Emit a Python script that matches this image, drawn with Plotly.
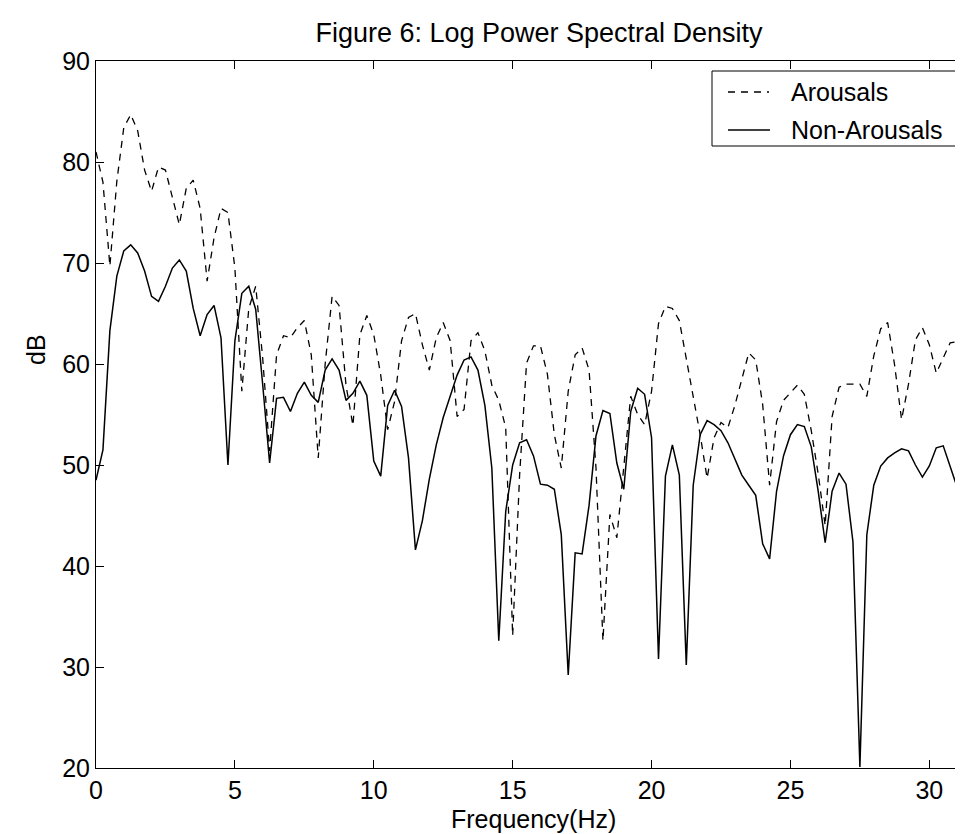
import plotly.graph_objects as go

step_hz = 0.25
freq = [i * step_hz for i in range(128)]

arousals = [
    81.0, 78.0, 69.7, 78.1, 83.4, 84.7, 83.1, 79.2, 77.1, 79.5,
    79.2, 76.4, 73.8, 77.4, 78.2, 75.4, 68.2, 72.5, 75.4, 75.0,
    69.5, 57.3, 65.5, 67.7, 60.6, 51.4, 60.9, 62.8, 62.6, 63.6,
    64.3, 60.9, 50.7, 60.0, 66.7, 65.8, 57.9, 53.9, 62.9, 64.8,
    62.9, 58.9, 53.5, 56.3, 62.3, 64.6, 65.0, 61.9, 59.4, 62.6,
    64.1, 62.3, 54.8, 55.5, 62.3, 63.1, 61.3, 57.9, 56.4, 53.7,
    33.1, 49.0, 60.1, 61.8, 61.8, 59.0, 53.0, 49.7, 57.3, 60.9,
    61.6, 59.4, 49.7, 32.6, 45.1, 42.8, 50.0, 56.8, 55.0, 54.0,
    57.3, 64.0, 65.7, 65.5, 64.3, 60.6, 56.6, 53.0, 48.7, 52.7,
    54.2, 53.7, 55.9, 58.4, 61.1, 60.4, 56.0, 48.0, 54.3, 56.4,
    57.1, 57.9, 57.0, 53.4, 49.1, 44.0, 54.8, 57.7, 58.0, 58.0,
    58.0, 56.8, 60.8, 63.5, 64.1, 59.9, 54.5, 58.0, 62.4, 63.6,
    61.9, 59.1, 60.6, 62.1, 62.2, 60.0, 54.5, 50.0,
]

non_arousals = [
    48.5, 51.5, 63.3, 68.7, 71.2, 71.8, 71.0, 69.2, 66.7, 66.2,
    67.7, 69.5, 70.3, 69.2, 65.5, 62.8, 64.9, 65.8, 62.6, 50.0,
    62.3, 67.0, 67.7, 65.4, 58.0, 50.2, 56.6, 56.7, 55.3, 57.1,
    58.2, 56.9, 56.2, 59.4, 60.5, 59.4, 56.4, 57.1, 58.3, 56.9,
    50.4, 48.9, 55.9, 57.4, 55.8, 50.7, 41.6, 44.5, 48.6, 52.0,
    54.7, 56.9, 58.9, 60.4, 60.7, 59.4, 55.9, 49.7, 32.6, 45.4,
    50.0, 52.2, 52.5, 50.9, 48.1, 48.0, 47.6, 43.1, 29.2, 41.3,
    41.2, 46.0, 52.9, 55.4, 55.1, 50.2, 47.6, 55.3, 57.6, 57.0,
    52.7, 30.8, 48.9, 52.0, 49.0, 30.2, 48.0, 53.0, 54.4, 54.0,
    53.4, 52.2, 50.5, 49.0, 48.0, 47.0, 42.2, 40.7, 47.4, 50.9,
    53.0, 54.0, 53.8, 51.8, 47.4, 42.3, 47.4, 49.2, 48.1, 42.4,
    20.1, 43.1, 48.0, 49.9, 50.7, 51.2, 51.6, 51.4, 50.0, 48.8,
    49.9, 51.7, 51.9, 49.9, 47.8, 47.5, 48.9, 49.5,
]

series_names = ["Arousals", "Non-Arousals"]
x_ticks = [0, 5, 10, 15, 20, 25, 30]
y_ticks = [20, 30, 40, 50, 60, 70, 80, 90]

FONT = "Liberation Sans, Arial, sans-serif"
W, H = 963, 834
L, R, T, B = 88, 0, 53, 74
PW, PH = W - L - R, H - T - B


def px(x):
    return (x - L) / PW


def py(y):
    return (H - B - y) / PH


DASH = "7px,6px"

fig = go.Figure()
fig.add_trace(go.Scatter(
    x=freq, y=arousals, mode="lines", name=series_names[0],
    line=dict(color="black", width=1.3, dash=DASH), showlegend=False,
))
fig.add_trace(go.Scatter(
    x=freq, y=non_arousals, mode="lines", name=series_names[1],
    line=dict(color="black", width=1.5), showlegend=False,
))

# legend box drawn by hand (paper coordinates)
shapes = [
    dict(type="rect", xref="paper", yref="paper",
         x0=px(704), x1=px(959), y0=py(138), y1=py(63),
         line=dict(color="black", width=1), fillcolor="white", layer="above"),
    dict(type="line", xref="paper", yref="paper",
         x0=px(720), x1=px(761), y0=py(84), y1=py(84),
         line=dict(color="black", width=1.3, dash=DASH), layer="above"),
    dict(type="line", xref="paper", yref="paper",
         x0=px(720), x1=px(762), y0=py(122), y1=py(122),
         line=dict(color="black", width=1.5), layer="above"),
]
annotations = [
    dict(text=series_names[0], xref="paper", yref="paper", x=px(781), y=py(84),
         xanchor="left", yanchor="middle", showarrow=False, font=dict(size=25)),
    dict(text=series_names[1], xref="paper", yref="paper", x=px(781), y=py(122),
         xanchor="left", yanchor="middle", showarrow=False, font=dict(size=25)),
    dict(text="Frequency(Hz)", xref="paper", yref="paper", x=0.5, y=py(811),
         xanchor="center", yanchor="middle", showarrow=False, font=dict(size=25)),
    dict(text="dB", xref="paper", yref="paper", x=px(28), y=py(342), textangle=-90,
         xanchor="center", yanchor="middle", showarrow=False, font=dict(size=25)),
]

fig.update_layout(
    width=W, height=H,
    paper_bgcolor="white", plot_bgcolor="white",
    margin=dict(l=L, r=R, t=T, b=B),
    font=dict(family=FONT, size=24, color="black"),
    title=dict(text="Figure 6: Log Power Spectral Density",
               x=px(531), xref="paper", xanchor="center",
               y=1 - 25 / H, yref="container", yanchor="middle",
               font=dict(size=27)),
    showlegend=False,
    shapes=shapes,
    annotations=annotations,
    xaxis=dict(range=[0, 31.5], tickvals=x_ticks, ticks="inside", ticklen=8,
               showline=True, linecolor="black", linewidth=1, mirror="allticks",
               showgrid=False, zeroline=False, tickcolor="black",
               tickfont=dict(size=25)),
    yaxis=dict(range=[20, 90], tickvals=y_ticks, ticks="inside", ticklen=8,
               showline=True, linecolor="black", linewidth=1, mirror=False,
               showgrid=False, zeroline=False, tickcolor="black",
               tickfont=dict(size=25)),
)

fig.write_html("out.html")
